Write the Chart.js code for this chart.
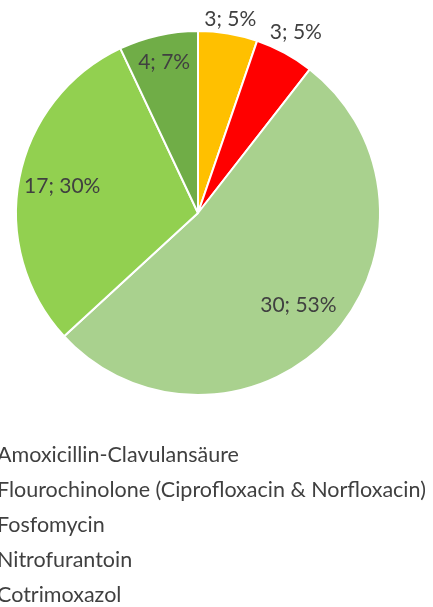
<!DOCTYPE html>
<html>
<head>
<meta charset="utf-8">
<script src="https://cdn.jsdelivr.net/npm/chart.js@4/dist/chart.umd.min.js"></script>
<style>
  html, body { margin: 0; padding: 0; background: #fff; overflow: hidden; }
  canvas { display: block; }
</style>
</head>
<body>
<canvas id="canvas" width="433" height="607"></canvas>
<script>
const antibiotics = [
  "Amoxicillin-Clavulansäure",
  "Flourochinolone (Ciprofloxacin & Norfloxacin)",
  "Fosfomycin",
  "Nitrofurantoin",
  "Cotrimoxazol",
];
const counts = [3, 3, 30, 17, 4];
const percentLabels = ["5%", "5%", "53%", "30%", "7%"];
const sliceColors = ["#FFC000", "#FF0000", "#A9D18E", "#92D050", "#70AD47"];

// where each "n; p%" label sits, as a fraction of the radius
const labelRadius = [1.08, 1.13, 0.75, 0.76, 0.85];
const textColor = "#404040";
const fontFamily = "Lato, 'Open Sans', sans-serif";

const sliceLabels = {
  id: "sliceLabels",
  afterDatasetsDraw(chart) {
    const ctx = chart.ctx;
    const arcs = chart.getDatasetMeta(0).data;
    ctx.save();
    ctx.font = "21px " + fontFamily;
    ctx.fillStyle = textColor;
    ctx.textAlign = "center";
    ctx.textBaseline = "middle";
    arcs.forEach((arc, i) => {
      const mid = (arc.startAngle + arc.endAngle) / 2;
      const r = arc.outerRadius * labelRadius[i];
      const x = arc.x + Math.cos(mid) * r;
      const y = arc.y + Math.sin(mid) * r;
      ctx.fillText(counts[i] + "; " + percentLabels[i], x, y);
    });
    ctx.restore();
  },
};

// legend drawn by hand so it can run off the left edge like the original
const legendList = {
  id: "legendList",
  afterDraw(chart) {
    const ctx = chart.ctx;
    ctx.save();
    ctx.font = "21.5px " + fontFamily;
    ctx.textBaseline = "middle";
    chart.data.labels.forEach((label, i) => {
      const y = 455 + i * 35;
      ctx.fillStyle = chart.data.datasets[0].backgroundColor[i];
      ctx.fillRect(-18, y - 5, 10, 10);
      ctx.fillStyle = textColor;
      ctx.fillText(label, -3, y);
    });
    ctx.restore();
  },
};

const chartContainer = document.getElementById("canvas").getContext("2d");
const antibioticChart = new Chart(chartContainer, {
  type: "pie",
  data: {
    labels: antibiotics,
    datasets: [
      {
        data: counts,
        backgroundColor: sliceColors,
        borderColor: "#ffffff",
        borderWidth: 2,
      },
    ],
  },
  options: {
    responsive: false,
    animation: false,
    layout: {
      padding: { left: 15, right: 52, top: 30, bottom: 211 },
    },
    plugins: {
      legend: { display: false },
      tooltip: { enabled: false },
    },
  },
  plugins: [sliceLabels, legendList],
});
</script>
</body>
</html>
